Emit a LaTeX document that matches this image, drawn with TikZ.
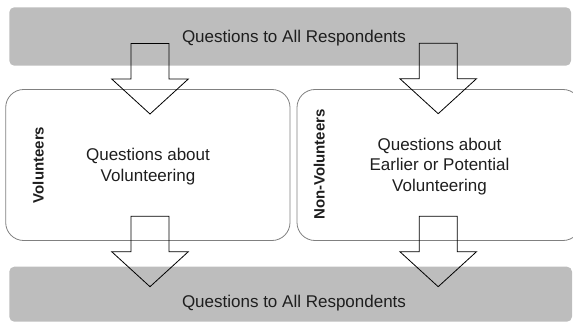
\documentclass[tikz,border=0pt]{standalone}
\usepackage{fontspec}
\setmainfont{Liberation Sans}
\definecolor{bargray}{HTML}{BDBDBD}
\definecolor{boxgray}{HTML}{808080}
\definecolor{txt}{HTML}{1E1E1E}
\begin{document}
\begin{tikzpicture}[x=1pt,y=-1pt,
  bar/.style={fill=bargray, draw=none, rounded corners=5pt},
  panel/.style={draw=boxgray, line width=0.8pt, rounded corners=18pt},
  maintext/.style={text=txt, font=\fontsize{17}{20.5}\selectfont, align=center, inner sep=0pt},
  sidetext/.style={text=txt, font=\fontsize{15}{18}\bfseries, rotate=90, inner sep=0pt},
  arrowline/.style={draw=black, line width=0.8pt, line join=miter},
  downarrow/.pic={\draw[arrowline] (-19,-70.5) -- (-19,-35) -- (-38.3,-35) -- (0,0) -- (38.3,-35) -- (19,-35) -- (19,-70.5) -- cycle;}
]
\useasboundingbox (0,0) rectangle (573,323);
\begin{scope}
\clip (0,0) rectangle (573,323);
% bars
\path[bar] (9.3,7.3) rectangle (571,65.7);
\node[maintext] (toptext) at (294,38.5) {Questions to All Respondents};
\path[bar] (9.3,266.7) rectangle (572,321.7);
\node[maintext] (bottext) at (294,303.5) {Questions to All Respondents};
% panels
\draw[panel] (5.7,89.5) rectangle (290,240.5);
\draw[panel] (297,89.5) rectangle (581,240.5);
\node[maintext] (voltext) at (148,166.5) {Questions about\\Volunteering};
\node[maintext] (nonvoltext) at (439.5,166.3) {Questions about\\Earlier or Potential\\Volunteering};
\node[sidetext] (vollabel) at (38.3,165) {Volunteers};
\node[sidetext] (nonvollabel) at (319.3,164.5) {Non-Volunteers};
% arrows
\coordinate (a1) at (150,114);
\coordinate (a2) at (438.2,113.7);
\coordinate (a3) at (150,286.7);
\coordinate (a4) at (438.2,286.7);
\pic at (a1) {downarrow};
\pic at (a2) {downarrow};
\pic at (a3) {downarrow};
\pic at (a4) {downarrow};
\end{scope}
\end{tikzpicture}
\end{document}
